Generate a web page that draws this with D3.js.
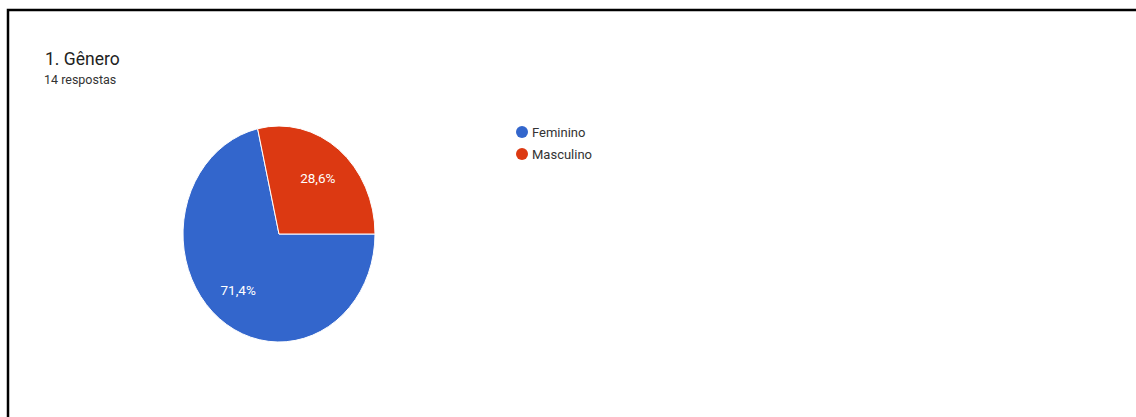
<!DOCTYPE html>
<html>
<head>
<meta charset="utf-8">
<script src="https://cdn.jsdelivr.net/npm/d3@7"></script>
<style>
  html, body { margin: 0; padding: 0; background: #fff; overflow: hidden; }
  svg { display: block; font-family: Roboto, "Noto Sans", sans-serif; }
</style>
</head>
<body>
<svg id="chart" width="1136" height="417"></svg>
<script>
// Answers to question 1 (gender), 14 responses in total
const categories = ["Feminino", "Masculino"];
const counts = [10, 4];
const colors = ["#3366cc", "#dc3912"];
const title = "1. Gênero";
const subtitle = "14 respostas";

const svg = d3.select("#chart");

// Card frame (top and left edges)
svg.append("path")
  .attr("d", "M8,417 V10 H1136")
  .attr("fill", "none")
  .attr("stroke", "#000")
  .attr("stroke-width", 2.5);

svg.append("text")
  .attr("x", 45).attr("y", 65)
  .attr("font-size", 17.5)
  .attr("fill", "#222")
  .text(title);

svg.append("text")
  .attr("x", 44).attr("y", 84)
  .attr("font-size", 12.5)
  .attr("fill", "#333")
  .text(subtitle);

// Pie: slices start at 3 o'clock and run clockwise
const cx = 279, cy = 234, rx = 96, ry = 108;
const total = d3.sum(counts);
const data = categories.map((c, i) => ({ name: c, value: counts[i], color: colors[i] }));

const pie = d3.pie()
  .value(d => d.value)
  .sort(null)
  .startAngle(Math.PI / 2)
  .endAngle(Math.PI / 2 + 2 * Math.PI);

const arcs = pie(data);
const arc = d3.arc().innerRadius(0).outerRadius(rx);
const labelArc = d3.arc().innerRadius(0).outerRadius(rx * 1.33);

const pieG = svg.append("g")
  .attr("transform", `translate(${cx},${cy}) scale(1,${ry / rx})`);

pieG.selectAll("path")
  .data(arcs)
  .enter().append("path")
  .attr("d", arc)
  .attr("fill", d => d.data.color)
  .attr("stroke", "#fff")
  .attr("stroke-width", 1)
  .attr("vector-effect", "non-scaling-stroke");

const fmt = v => (Math.round(v / total * 1000) / 10).toFixed(1).replace(".", ",") + "%";

svg.selectAll("text.slice-label")
  .data(arcs)
  .enter().append("text")
  .attr("class", "slice-label")
  .attr("x", d => cx + labelArc.centroid(d)[0] - 1)
  .attr("y", d => cy + labelArc.centroid(d)[1] * ry / rx)
  .attr("text-anchor", "middle")
  .attr("dominant-baseline", "central")
  .attr("font-size", 13.5)
  .attr("fill", "#fff")
  .text(d => fmt(d.data.value));

// Legend
const legend = svg.append("g").attr("transform", "translate(522,132)");
const item = legend.selectAll("g")
  .data(data)
  .enter().append("g")
  .attr("transform", (d, i) => `translate(0,${i * 22})`);

item.append("circle")
  .attr("r", 6)
  .attr("fill", d => d.color);

item.append("text")
  .attr("x", 10)
  .attr("y", 0)
  .attr("dominant-baseline", "central")
  .attr("font-size", 13)
  .attr("fill", "#333")
  .text(d => d.name);
</script>
</body>
</html>
